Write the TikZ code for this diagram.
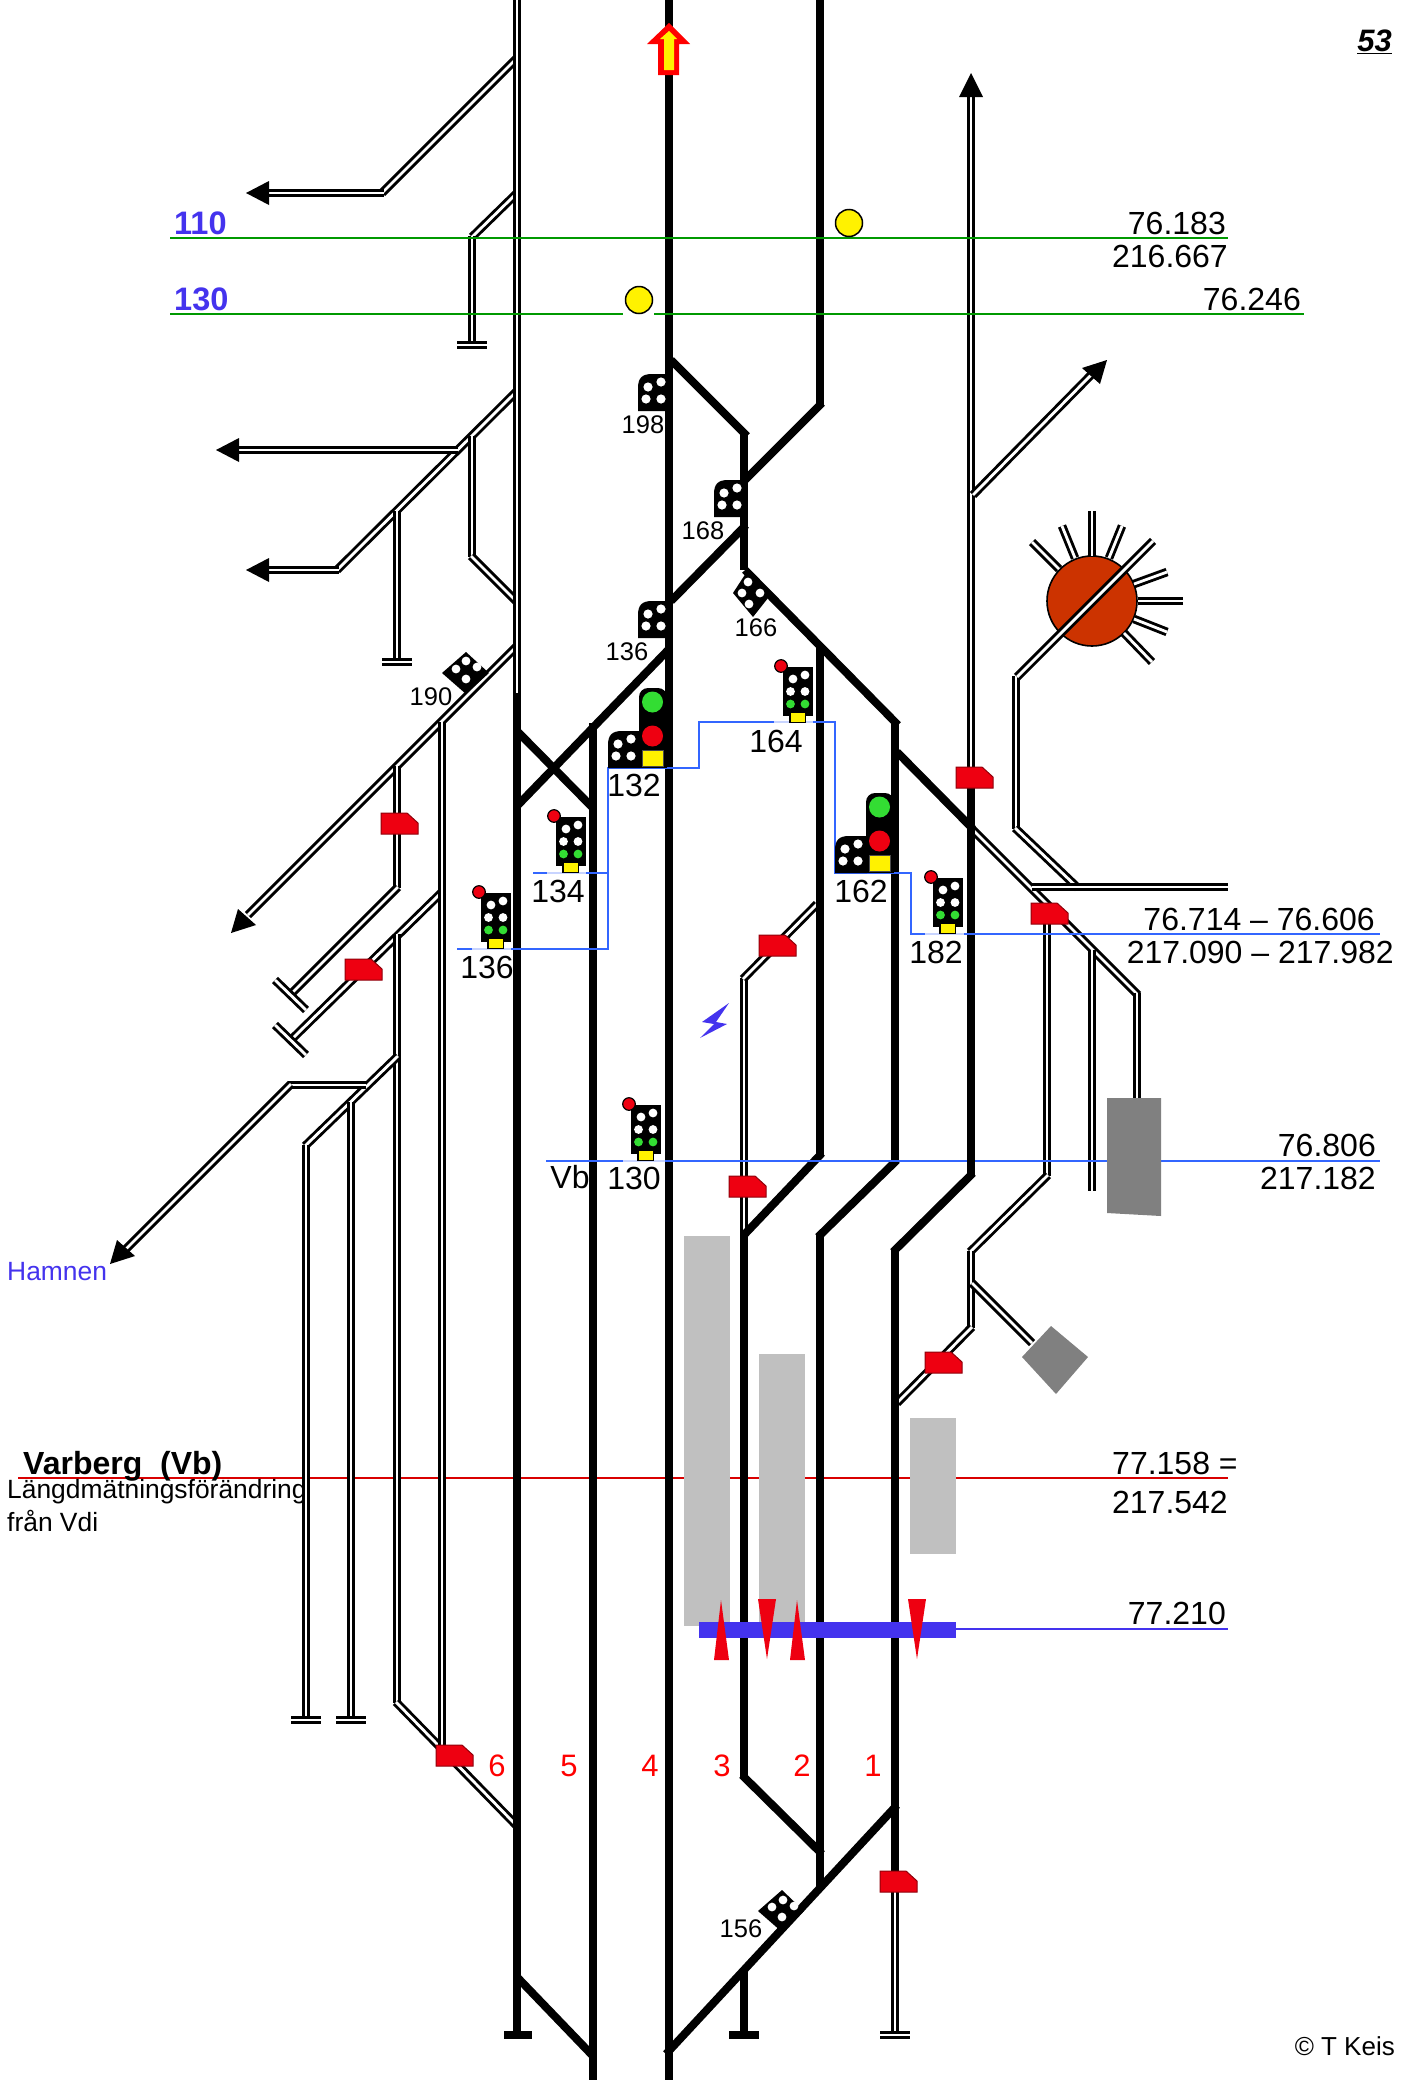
\documentclass[tikz,border=0pt]{standalone}
\usepackage{fontspec}
\setmainfont{Liberation Sans}
\definecolor{sigred}{HTML}{EE0011}
\definecolor{linblue}{HTML}{3366FF}
\definecolor{lightblue}{HTML}{C8D4FF}
\definecolor{violetblue}{HTML}{4433EE}
\definecolor{greenline}{HTML}{009900}
\definecolor{sgreen}{HTML}{33DD33}
\definecolor{dgray}{HTML}{808080}
\definecolor{lgray}{HTML}{C0C0C0}
\definecolor{rust}{HTML}{CC3300}
\newcommand{\fsz}[1]{\fontsize{#1}{#1}\selectfont}
\newcommand{\dwarfsig}[2]{\begin{scope}[shift={(#1,#2)}]
 \fill[black] (0,37) -- (0,14) .. controls (0,4) and (4,0) .. (14,0) -- (32,0) -- (32,37) -- cycle;
 \foreach \dx/\dy in {10/13,23/8,8/25,23/25}{\fill[white] (\dx,\dy) circle[radius=4.6];}
\end{scope}}
\newcommand{\tallsig}[2]{\begin{scope}[shift={(#1,#2)}]
 \fill[black] (0,0) rectangle (30,49);
 \fill[black] (6,44) rectangle (23,56);
 \fill[yellow] (7.5,46) rectangle (21.5,54.5);
 \fill[sigred,draw=black,line width=1.2] (-2,-1) circle[radius=6.3];
 \foreach \dx/\dy in {10/12,22/8,7.5/24.5,22/24.5}{\fill[white] (\dx,\dy) circle[radius=4.4];}
 \foreach \dx/\dy in {7.5/37,22/37}{\fill[sgreen] (\dx,\dy) circle[radius=4.4];}
\end{scope}}
\newcommand{\mainsig}[2]{\begin{scope}[shift={(#1,#2)}]
 \fill[black,rounded corners=9] (0,0) rectangle (28,40);
 \fill[black] (0,20) rectangle (28,80);
 \fill[sgreen] (13.5,14) circle[radius=10.5];
 \fill[sigred] (13.5,48) circle[radius=10.5];
 \fill[yellow,draw=black!70,line width=1] (3,62) rectangle (24.5,78);
\end{scope}}
\newcommand{\redsign}[2]{\fill[sigred,draw=black!40!sigred,line width=1] (#1,#2) -- ++(26,0) -- ++(11,10) -- ++(0,11) -- ++(-37,0) -- cycle;}
\tikzset{
 trk/.style={line width=8,black},
 dbl/.style={line width=2.9,black,double=white,double distance=2.8},
 lab/.style={font=\fsz{32},inner sep=0,text=black},
 slab/.style={font=\fsz{25.5},inner sep=0,text=black},
 rlab/.style={font=\fsz{31},inner sep=0,text=red},
 bluel/.style={line width=1.6,linblue},
}
\begin{document}
\begin{tikzpicture}[x=1pt,y=-1pt]
\useasboundingbox (0,0) rectangle (1401,2080);
\fill[white] (0,0) rectangle (1401,2080);

% red chainage line, below the tracks
\draw[red!85!black,line width=1.6] (18,1478) -- (1228,1478);
% platforms
\fill[lgray] (684,1236) rectangle (730,1626);
\fill[lgray] (759,1354) rectangle (805,1622);
\fill[lgray] (910,1418) rectangle (956,1554);

% double (secondary) tracks
\draw[dbl] (382,193) -- (517,58);
\draw[dbl] (269,193) -- (384,193);
\draw[dbl] (472,237) -- (517,193);
\draw[dbl] (472,236) -- (472,344);
\draw[dbl] (457,345) -- (487,345);
\draw[dbl] (337,570) -- (517,391);
\draw[dbl] (269,570) -- (339,570);
\draw[dbl] (239,450) -- (458,450);
\draw[dbl] (397,511) -- (397,662);
\draw[dbl] (382,662) -- (412,662);
\draw[dbl] (472,436) -- (472,557);
\draw[dbl] (471,556) -- (517,602);
\draw[dbl] (248,915) -- (517,646);
\draw[dbl] (397,766) -- (397,888);
\draw[dbl] (398,887) -- (293,992);
\draw[dbl] (275,980) -- (306,1010);
\draw[dbl] (443,891) -- (293,1038);
\draw[dbl] (275,1025) -- (306,1055);
\draw[dbl] (397,934) -- (397,1703);
\draw[dbl] (396,1702) -- (517,1826);
\draw[dbl] (442,722) -- (442,1747);
\draw[dbl] (398,1056) -- (305,1146);
\draw[dbl] (306,1145) -- (306,1721);
\draw[dbl] (291,1720) -- (321,1720);
\draw[dbl] (366,1085) -- (288,1085);
\draw[dbl] (291,1084) -- (125,1250);
\draw[dbl] (351,1102) -- (351,1721);
\draw[dbl] (336,1720) -- (366,1720);
\draw[dbl] (517,0) -- (517,693);
% centre-right double tracks
\draw[dbl] (744,978) -- (744,1236);
\draw[dbl] (743,979) -- (817,904);
\draw[dbl] (895,1870) -- (895,2036);
\draw[dbl] (880,2035) -- (910,2035);
\draw[dbl] (971,97) -- (971,770);
\draw[dbl] (973,495) -- (1091,375);
\draw[dbl] (971,828) -- (1138,995);
\draw[dbl] (1137,993) -- (1137,1100);
\draw[dbl] (1047,903) -- (1047,1176);
\draw[dbl] (1048,1175) -- (970,1252);
\draw[dbl] (1092,950) -- (1092,1191);
\draw[dbl] (971,1251) -- (971,1328);
\draw[dbl] (972,1327) -- (897,1403);
\draw[dbl] (972,1283) -- (1032,1343);
\draw[dbl] (1016,676) -- (1016,829);
\draw[dbl] (1015,828) -- (1078,888);
\draw[dbl] (1032,887) -- (1228,887);

% thick main tracks
\draw[trk] (517,693) -- (517,2034);
\draw[trk] (504,2035) -- (532,2035);
\draw[trk] (517,1977) -- (593,2056);
\draw[trk] (517,731) -- (593,808);
\draw[trk] (517,806) -- (670,648);
\draw[trk] (593,723) -- (593,2080);
\draw[trk] (668.5,0) -- (668.5,2080);
\draw[trk] (820,0) -- (820,405);
\draw[trk] (822,403) -- (744,481);
\draw[trk] (671,360) -- (747,436);
\draw[trk] (744,434) -- (744,570);
\draw[trk] (746,525) -- (671,601);
\draw[trk] (745,570) -- (898,725);
\draw[trk] (820,647) -- (820,1155);
\draw[trk] (822,1153) -- (743,1236);
\draw[trk] (895,723) -- (895,1162);
\draw[trk] (897,1160) -- (818,1237);
\draw[trk] (820,1235) -- (820,1887);
\draw[trk] (897,752) -- (973,829);
\draw[trk] (971,787) -- (971,1175);
\draw[trk] (973,1173) -- (893,1252);
\draw[trk] (895,1250) -- (895,1872);
\draw[trk] (744,1235) -- (744,1777);
\draw[trk] (742,1775) -- (822,1854);
\draw[trk] (897,1805) -- (666,2054);
\draw[trk] (744,1970) -- (744,2034);
\draw[trk] (729,2035) -- (759,2035);

% turntable
\fill[rust,draw=black,line width=1.6] (1092,601) circle[radius=45];
\draw[dbl] (1017,677) -- (1153,541);
\draw[dbl] (1092,511) -- (1092,556);
\draw[dbl] (1062,526) -- (1075,558);
\draw[dbl] (1122,526) -- (1109,558);
\draw[dbl] (1032,542) -- (1059,569);
\draw[dbl] (1167,572) -- (1134,584);
\draw[dbl] (1183,601) -- (1138,601);
\draw[dbl] (1167,632) -- (1134,619);
\draw[dbl] (1152,662) -- (1124,633);

% arrowheads on free track ends
\fill[black] (246,193) -- (269,181) -- (269,205) -- cycle;
\fill[black] (246,570) -- (269,558) -- (269,582) -- cycle;
\fill[black] (216,450) -- (239,438) -- (239,462) -- cycle;
\fill[black] (231,933) -- (238,909) -- (256,925) -- cycle;
\fill[black] (110,1264) -- (117,1240) -- (135,1256) -- cycle;
\fill[black] (971,73) -- (959,97) -- (983,97) -- cycle;
\fill[black] (1107,360) -- (1100,384) -- (1082,368) -- cycle;

% up arrow on track 4
\fill[red] (669,23) -- (690,44) -- (679,44) -- (679,75) -- (658,75) -- (658,44) -- (647,44) -- cycle;
\fill[yellow] (669,31) -- (677,39) -- (674,39) -- (674,70) -- (664,70) -- (664,39) -- (660,39) -- cycle;

% Vb line and other blue lines
\draw[bluel] (546,1161) -- (1380,1161);
\draw[trk] (971,1155) -- (971,1167);
\draw[bluel] (457,949) -- (608,949) -- (608,768) -- (699,768) -- (699,722) -- (835,722) -- (835,873) -- (911,873) -- (911,934) -- (1380,934);
\draw[bluel] (533,873) -- (608,873);
% faint parts under dwarf signal plates
\draw[lightblue,line width=1.6] (472,949) -- (511,949);
\draw[lightblue,line width=1.6] (547,873) -- (586,873);
\draw[lightblue,line width=1.6] (774,722) -- (813,722);
\draw[lightblue,line width=1.6] (925,934) -- (964,934);
\draw[lightblue,line width=1.6] (623,1161) -- (665,1161);

% goods buildings
\fill[dgray] (1107,1098) -- (1161,1098) -- (1161,1216) -- (1107,1213) -- cycle;
\fill[dgray] (1051,1326) -- (1088,1357) -- (1056,1394) -- (1022,1357) -- cycle;

% green lines and yellow markers
\draw[greenline,line width=1.6] (170,238) -- (1228,238);
\draw[greenline,line width=1.6] (170,314) -- (623,314);
\draw[greenline,line width=1.6] (654,314) -- (1304,314);
\fill[yellow,draw=black,line width=1.5] (849,223) circle[radius=13.5];
\fill[yellow,draw=black,line width=1.5] (639,300) circle[radius=13.5];

% platform bar
\draw[violetblue,line width=1.6] (956,1629) -- (1228,1629);
\fill[violetblue] (699,1622) rectangle (956,1638);
\fill[sigred] (721,1600) -- (729,1660) -- (714,1660) -- cycle;
\fill[sigred] (758,1599) -- (776,1599) -- (767,1659) -- cycle;
\fill[sigred] (797,1600) -- (805,1660) -- (790,1660) -- cycle;
\fill[sigred] (908,1599) -- (926,1599) -- (917,1659) -- cycle;

% red signs
\redsign{381}{813}
\redsign{345}{959}
\redsign{759}{935}
\redsign{729}{1176}
\redsign{925}{1352}
\redsign{436}{1745}
\redsign{880}{1871}
\redsign{956}{767}
\redsign{1031}{903}

% signals
\dwarfsig{638}{374}
\dwarfsig{714}{480}
\dwarfsig{638}{601}
\dwarfsig{608}{731}
\dwarfsig{835}{836}
\tallsig{481}{893}
\tallsig{556}{817}
\tallsig{933}{878}
\tallsig{783}{667}
\tallsig{631}{1105}
\mainsig{639}{688}
\mainsig{866}{793}
% rotated dwarf signals
\fill[black] (442,673) -- (466,652) -- (489,673) -- (466,694) -- cycle;
\foreach \dx/\dy in {466/661,456/669,477/667,466/679}{\fill[white] (\dx,\dy) circle[radius=4.4];}
\fill[black] (758,1911) -- (782,1890) -- (804,1911) -- (782,1932) -- cycle;
\foreach \dx/\dy in {783/1900,772/1907,794/1906,782/1917}{\fill[white] (\dx,\dy) circle[radius=4.4];}
\fill[black] (733,593) -- (748,570) -- (772,593) -- (753,617) -- cycle;
\foreach \dx/\dy in {748/582,742/593,760/593,749/604}{\fill[white] (\dx,\dy) circle[radius=4.4];}

% lightning
\fill[violetblue] (729,1003) -- (716,1022) -- (727,1024) -- (700,1038) -- (714,1024) -- (702,1022) -- cycle;

% signal numbers
\node[slab] (n198) at (643,425) {198};
\node[slab] (n168) at (703,531) {168};
\node[slab] (n136s) at (627,652) {136};
\node[slab] (n166) at (756,628) {166};
\node[slab] (n190) at (431,697) {190};
\node[slab] (n156) at (741,1929) {156};
\node[lab] (n132) at (634,785) {132};
\node[lab] (n134) at (558,891) {134};
\node[lab] (n136) at (487,967) {136};
\node[lab] (n164) at (776,741) {164};
\node[lab] (n162) at (861,891) {162};
\node[lab] (n182) at (936,952) {182};
\node[lab] (nvb) at (570,1177) {Vb};
\node[lab] (n130) at (634,1178) {130};

% chainages
\node[lab,anchor=east] (k1) at (1226,223) {76.183};
\node[lab,anchor=east] (k2) at (1228,256) {216.667};
\node[lab,anchor=east] (k3) at (1301,299) {76.246};
\node[lab,anchor=east] (k4) at (1375,919) {76.714 – 76.606};
\node[lab,anchor=east] (k5) at (1394,952) {217.090 – 217.982};
\node[lab,anchor=east] (k6) at (1376,1145) {76.806};
\node[lab,anchor=east] (k7) at (1376,1178) {217.182};
\node[lab,anchor=west] (k8) at (1112,1463) {77.158 =};
\node[lab,anchor=east] (k9) at (1228,1502) {217.542};
\node[lab,anchor=east] (k10) at (1226,1613) {77.210};

% other text
\node[font=\fsz{32.5}\bfseries,text=violetblue,inner sep=0,anchor=west] (t110) at (174,223) {110};
\node[font=\fsz{32.5}\bfseries,text=violetblue,inner sep=0,anchor=west] (t130) at (174,299) {130};
\node[font=\fsz{26.4},text=violetblue,inner sep=0,anchor=west] (hamnen) at (7,1272) {Hamnen};
\node[font=\fsz{32}\bfseries,inner sep=0,anchor=base west] (varberg) at (23,1474) {Varberg\ \ (Vb)};
\node[font=\fsz{26.4},inner sep=0,anchor=base west] (lf) at (7,1498) {Längdmätningsförändring};
\node[font=\fsz{26.4},inner sep=0,anchor=base west] (fv) at (7,1531) {från Vdi};
\node[font=\fsz{31}\bfseries\itshape,inner sep=0,anchor=east] (page) at (1392,42) {\underline{53}};
\node[font=\fsz{26},inner sep=0,anchor=east] (copy) at (1395,2046) {© T Keis};

% track numbers
\node[rlab] (t6) at (497,1766) {6};
\node[rlab] (t5) at (569,1766) {5};
\node[rlab] (t4) at (650,1766) {4};
\node[rlab] (t3) at (722,1766) {3};
\node[rlab] (t2) at (802,1766) {2};
\node[rlab] (t1) at (873,1766) {1};
\end{tikzpicture}
\end{document}
